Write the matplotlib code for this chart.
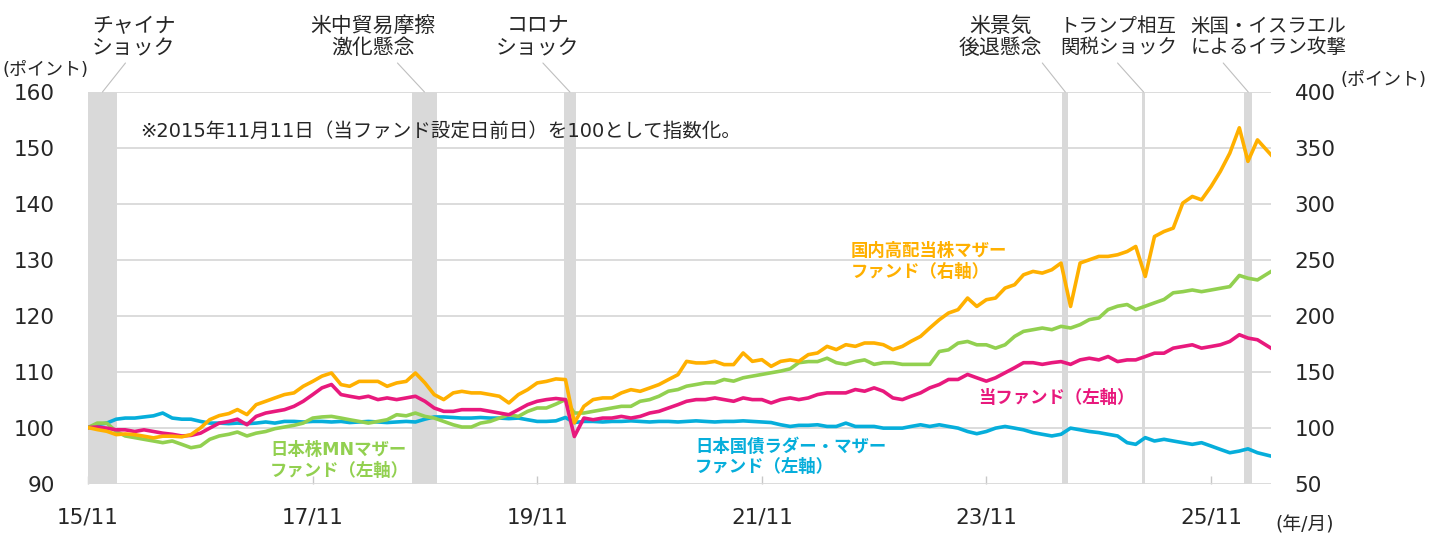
import pandas as pd
import matplotlib
matplotlib.use("Agg")
import matplotlib.pyplot as plt

# --------------------------------
# 1. DATA (monthly readings, index = 2015/11/11 -> 100)
# --------------------------------
START = "2015-11-11"
END = "2026-05-25"

# 当ファンド (left axis)
fund = [100.0, 100.1, 99.9, 99.6, 99.6, 99.3, 99.6, 99.3, 99.0, 98.8,
        98.5, 98.6, 99.0, 99.9, 100.8, 101.1, 101.5, 100.5, 102.0, 102.6,
        102.9, 103.2, 103.8, 104.7, 105.9, 107.1, 107.7, 105.9, 105.6, 105.3,
        105.6, 105.0, 105.3, 105.0, 105.3, 105.6, 104.7, 103.5, 102.9, 102.9,
        103.2, 103.2, 103.2, 102.9, 102.6, 102.3, 103.2, 104.1, 104.7, 105.0,
        105.2, 105.0, 98.4, 101.7, 101.4, 101.7, 101.7, 102.0, 101.7, 102.0,
        102.6, 102.9, 103.5, 104.1, 104.7, 105.0, 105.0, 105.3, 105.0, 104.7,
        105.3, 105.0, 105.0, 104.4, 105.0, 105.3, 105.0, 105.3, 105.9, 106.2,
        106.2, 106.2, 106.8, 106.5, 107.1, 106.5, 105.3, 105.0, 105.6, 106.2,
        107.1, 107.7, 108.6, 108.6, 109.5, 108.9, 108.3, 108.9, 109.8, 110.7,
        111.6, 111.6, 111.3, 111.6, 111.8, 111.3, 112.1, 112.4, 112.1, 112.7,
        111.8, 112.1, 112.1, 112.7, 113.3, 113.3, 114.2, 114.5, 114.8, 114.2,
        114.5, 114.8, 115.4, 116.6, 116.0, 115.7, 114.2]

# 日本株MNマザーファンド (left axis)
mn_mother = [100.0, 100.8, 100.8, 99.3, 98.5, 98.2, 97.9, 97.6, 97.3, 97.6,
             97.0, 96.4, 96.7, 97.9, 98.5, 98.8, 99.2, 98.5, 99.0, 99.3,
             99.8, 100.1, 100.4, 100.8, 101.7, 101.9, 102.0, 101.7, 101.4, 101.1,
             100.8, 101.1, 101.4, 102.3, 102.1, 102.6, 102.0, 101.7, 101.1, 100.5,
             100.1, 100.1, 100.8, 101.1, 101.7, 102.3, 102.0, 102.9, 103.5, 103.5,
             104.2, 105.0, 102.6, 102.6, 102.9, 103.2, 103.5, 103.8, 103.8, 104.7,
             105.0, 105.6, 106.5, 106.8, 107.4, 107.7, 108.0, 108.0, 108.6, 108.3,
             108.9, 109.2, 109.5, 109.8, 110.1, 110.5, 111.6, 111.8, 111.8, 112.4,
             111.6, 111.3, 111.8, 112.1, 111.3, 111.6, 111.6, 111.3, 111.3, 111.3,
             111.3, 113.6, 113.9, 115.1, 115.4, 114.8, 114.8, 114.2, 114.8, 116.3,
             117.2, 117.5, 117.8, 117.5, 118.1, 117.8, 118.4, 119.3, 119.6, 121.1,
             121.7, 122.0, 121.1, 121.7, 122.3, 122.9, 124.1, 124.3, 124.6, 124.3,
             124.6, 124.9, 125.2, 127.2, 126.7, 126.4, 127.9]

# 日本国債ラダー・マザーファンド (left axis)
jgb_ladder = [100.0, 100.5, 100.8, 101.5, 101.7, 101.7, 101.9, 102.1, 102.6, 101.7,
              101.5, 101.5, 101.1, 100.8, 100.8, 100.7, 100.8, 100.7, 100.8, 101.0,
              100.8, 101.1, 101.1, 101.0, 101.1, 101.1, 101.0, 101.1, 100.9, 101.0,
              101.1, 101.0, 100.9, 101.0, 101.1, 101.0, 101.5, 101.9, 101.9, 101.8,
              101.7, 101.7, 101.8, 101.7, 101.7, 101.6, 101.7, 101.4, 101.1, 101.1,
              101.2, 101.8, 100.9, 101.1, 101.1, 101.0, 101.1, 101.1, 101.2, 101.1,
              101.0, 101.1, 101.1, 101.0, 101.1, 101.2, 101.1, 101.0, 101.1, 101.1,
              101.2, 101.1, 101.0, 100.9, 100.5, 100.2, 100.4, 100.4, 100.5, 100.2,
              100.2, 100.8, 100.2, 100.2, 100.2, 99.9, 99.9, 99.9, 100.2, 100.5,
              100.2, 100.5, 100.2, 99.9, 99.3, 98.9, 99.3, 99.9, 100.2, 99.9,
              99.6, 99.1, 98.8, 98.5, 98.8, 99.9, 99.6, 99.3, 99.1, 98.8,
              98.5, 97.3, 97.0, 98.2, 97.6, 97.9, 97.6, 97.3, 97.0, 97.3,
              96.7, 96.1, 95.5, 95.8, 96.2, 95.5, 94.9]

# 国内高配当株マザーファンド (right axis)
high_div = [100.0, 98.2, 96.7, 93.7, 94.3, 93.7, 92.3, 90.8, 92.3, 92.3,
            91.7, 93.7, 99.7, 107.1, 110.7, 112.5, 116.1, 111.6, 120.5, 123.5,
            126.5, 129.5, 131.0, 136.9, 141.3, 146.0, 148.8, 138.4, 136.9, 141.3,
            141.3, 141.3, 136.9, 139.9, 141.3, 148.8, 139.9, 129.5, 125.0, 131.0,
            132.4, 131.0, 131.0, 129.5, 128.0, 122.0, 129.5, 133.9, 139.9, 141.3,
            143.5, 142.9, 104.2, 119.0, 125.0, 126.5, 126.5, 131.0, 133.9, 132.4,
            135.4, 138.4, 142.9, 147.3, 159.2, 157.8, 157.8, 159.2, 156.3, 156.3,
            166.7, 159.2, 160.7, 154.7, 159.2, 160.5, 159.2, 165.2, 166.7, 172.6,
            169.7, 174.1, 172.6, 175.6, 175.6, 174.1, 169.7, 172.6, 177.1, 181.5,
            189.0, 196.4, 202.4, 205.4, 215.8, 208.3, 214.3, 215.8, 224.7, 227.7,
            236.6, 239.6, 238.1, 241.1, 247.1, 208.3, 247.1, 250.0, 253.0, 253.0,
            254.5, 257.4, 261.9, 235.1, 270.8, 275.3, 278.3, 300.7, 306.6, 303.6,
            315.5, 328.9, 345.3, 368.0, 338.0, 357.2, 343.8]

# events: label, band start, band end
event_labels = ["チャイナ\nショック", "米中貿易摩擦\n激化懸念", "コロナ\nショック",
                "米景気\n後退懸念", "トランプ相互\n関税ショック", "米国・イスラエル\nによるイラン攻撃"]
event_starts = ["2015-11-11", "2018-09-30", "2020-02-06", "2024-07-15", "2025-04-02", "2026-02-27"]
event_ends = ["2016-02-13", "2018-12-20", "2020-03-16", "2024-08-04", "2025-04-09", "2026-03-25"]

xtick_dates = ["2015-11-11", "2017-11-11", "2019-11-11", "2021-11-11", "2023-11-11", "2025-11-11"]
xtick_labels = ["15/11", "17/11", "19/11", "21/11", "23/11", "25/11"]

# --------------------------------
# 2. STYLE
# --------------------------------
plt.rcParams["font.family"] = ["DejaVu Sans", "Noto Sans CJK JP"]
ORANGE = "#FFB000"
GREEN = "#92D050"
PINK = "#E8197D"
BLUE = "#06AEDB"
BAND = "#D9D9D9"
TEXT = "#262626"

W, H = 1429, 535

dates = pd.date_range("2015-11-01", periods=len(fund), freq="MS") + pd.Timedelta(days=10)
dates = dates[:-1].append(pd.DatetimeIndex([END]))

fig = plt.figure(figsize=(W / 100, H / 100), dpi=100)
ax = fig.add_axes([88 / W, (H - 483.5) / H, (1271 - 88) / W, (483.5 - 92) / H])
ax2 = ax.twinx()

# event bands + leader lines + labels
text_dx = [31, -52, -32, -65, -25, 20]
text_size = [15, 15, 15, 15, 14, 14]
line_dx = [23, -27, -27, -23, -26, -25]
for lab, s, e, tdx, fs, ldx in zip(event_labels, event_starts, event_ends,
                                   text_dx, text_size, line_dx):
    s, e = pd.Timestamp(s), pd.Timestamp(e)
    ax.axvspan(s, e, color=BAND, lw=0, zorder=1)
    mid = s + (e - s) / 2
    ax.annotate("", xy=(mid, 1.0), xycoords=("data", "axes fraction"),
                xytext=(ldx, 29), textcoords="offset pixels",
                arrowprops=dict(arrowstyle="-", color="#BFBFBF", lw=0.8,
                                shrinkA=0, shrinkB=0), annotation_clip=False)
    ax.annotate(lab, xy=(mid, 1.0), xycoords=("data", "axes fraction"),
                xytext=(tdx, 55), textcoords="offset pixels",
                ha="center", va="center", fontsize=fs, color=TEXT,
                linespacing=1.15, annotation_clip=False)

# lines
ax.plot(dates, jgb_ladder, color=BLUE, lw=2.6, zorder=3)
ax.plot(dates, mn_mother, color=GREEN, lw=2.6, zorder=4)
ax.plot(dates, fund, color=PINK, lw=2.6, zorder=5)
ax2.plot(dates, high_div, color=ORANGE, lw=2.6, zorder=6)

# axes
ax.set_xlim(dates[0], dates[-1])
ax.set_ylim(90, 160)
ax2.set_ylim(50, 400)
ax.set_yticks(range(90, 161, 10))
ax2.set_yticks(range(50, 401, 50))
ax.set_xticks(pd.to_datetime(xtick_dates))
ax.set_xticklabels(xtick_labels)
ax.yaxis.grid(True, color=BAND, lw=1.3)
ax.set_axisbelow(True)
for a in (ax, ax2):
    for sp in a.spines.values():
        sp.set_visible(False)
ax.tick_params(axis="x", direction="in", length=6, width=1, color="#C8C8C8",
               pad=17, labelsize=15.5, labelcolor=TEXT)
ax.tick_params(axis="y", length=0, pad=24, labelsize=15.5, labelcolor=TEXT)
ax2.tick_params(axis="y", length=0, pad=17, labelsize=15.5, labelcolor=TEXT)

# texts
fig.text(45 / W, 1 - 70 / H, "(ポイント)", ha="center", va="center", fontsize=13, color=TEXT)
fig.text(1384 / W, 1 - 80 / H, "(ポイント)", ha="center", va="center", fontsize=13, color=TEXT)
fig.text(1305 / W, 1 - 525 / H, "(年/月)", ha="center", va="center", fontsize=13.5, color=TEXT)
fig.text(140 / W, 1 - 131 / H, "※2015年11月11日（当ファンド設定日前日）を100として指数化。",
         ha="left", va="center", fontsize=14, color=TEXT)

fig.text(851 / W, 1 - 261.5 / H, "国内高配当株マザー\nファンド（右軸）", ha="left", va="center",
         fontsize=12.5, fontweight="bold", color=ORANGE, linespacing=1.2)
fig.text(978 / W, 1 - 398 / H, "当ファンド（左軸）", ha="left", va="center",
         fontsize=12.5, fontweight="bold", color=PINK)
fig.text(695 / W, 1 - 457 / H, "日本国債ラダー・マザー\nファンド（左軸）", ha="left", va="center",
         fontsize=12.5, fontweight="bold", color=BLUE, linespacing=1.2)
fig.text(270 / W, 1 - 460.5 / H, "日本株MNマザー\nファンド（左軸）", ha="left", va="center",
         fontsize=12.5, fontweight="bold", color=GREEN, linespacing=1.2)

fig.savefig("out.png", dpi=100, facecolor="white")
